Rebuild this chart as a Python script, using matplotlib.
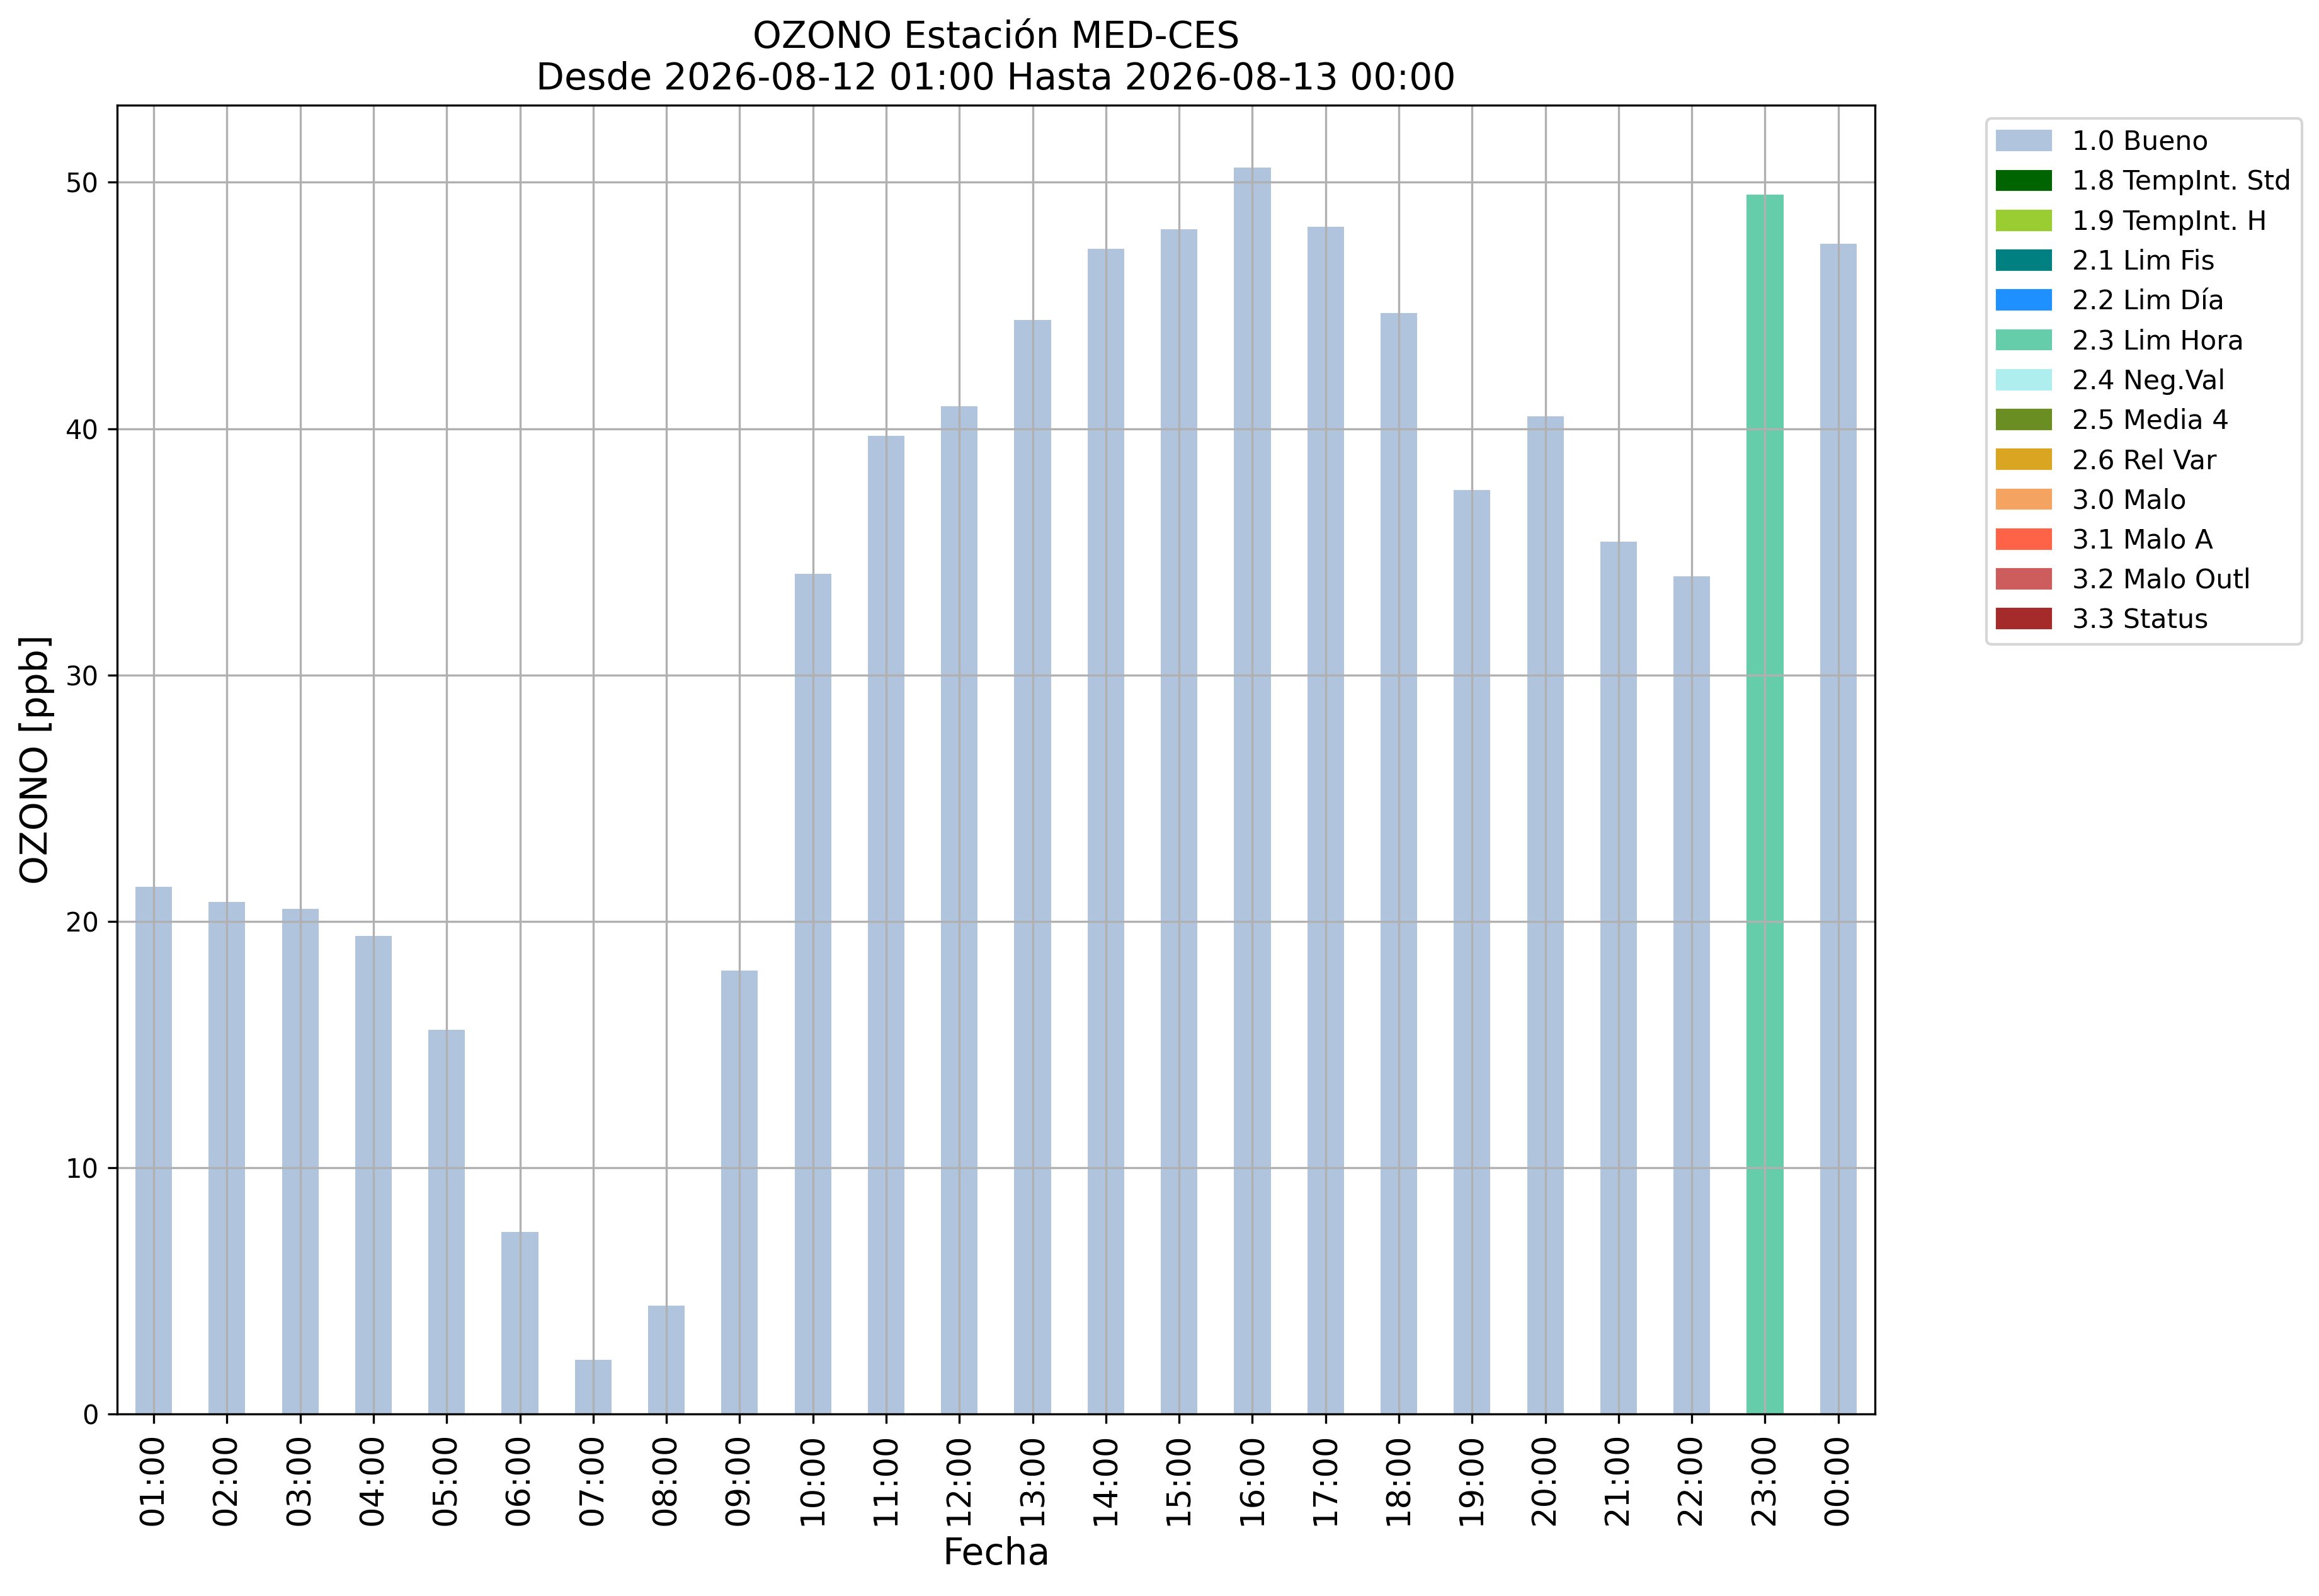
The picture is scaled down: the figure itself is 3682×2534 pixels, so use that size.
import numpy as np
import matplotlib
matplotlib.use("Agg")
import matplotlib.pyplot as plt
import matplotlib.patches as mpatches

# datos horarios de ozono
horas = ["01:00", "02:00", "03:00", "04:00", "05:00", "06:00", "07:00", "08:00",
         "09:00", "10:00", "11:00", "12:00", "13:00", "14:00", "15:00", "16:00",
         "17:00", "18:00", "19:00", "20:00", "21:00", "22:00", "23:00", "00:00"]
ozono = [21.4, 20.8, 20.5, 19.4, 15.6, 7.4, 2.2, 4.4,
         18.0, 34.1, 39.7, 40.9, 44.4, 47.3, 48.1, 50.6,
         48.2, 44.7, 37.5, 40.5, 35.4, 34.0, 49.5, 47.5]
banderas = ["1.0"] * 22 + ["2.3", "1.0"]

# etiquetas y colores de las banderas de calidad
flag_codes = ["1.0", "1.8", "1.9", "2.1", "2.2", "2.3", "2.4", "2.5", "2.6",
              "3.0", "3.1", "3.2", "3.3"]
flag_names = ["Bueno", "TempInt. Std", "TempInt. H", "Lim Fis", "Lim Día",
              "Lim Hora", "Neg.Val", "Media 4", "Rel Var", "Malo", "Malo A",
              "Malo Outl", "Status"]
flag_colors = ["lightsteelblue", "darkgreen", "yellowgreen", "teal", "dodgerblue",
               "mediumaquamarine", "paleturquoise", "olivedrab", "goldenrod",
               "sandybrown", "tomato", "indianred", "brown"]

color_map = dict(zip(flag_codes, flag_colors))
bar_colors = [color_map[b] for b in banderas]

fig = plt.figure(figsize=(3682 / 300, 2534 / 300), dpi=300)
ax = fig.add_axes([0.0505, 0.114, 0.758, 0.8201])

x = np.arange(len(horas))
ax.bar(x, ozono, width=0.5, color=bar_colors)
ax.set_xlim(-0.5, len(horas) - 0.5)
ax.set_xticks(x)
ax.set_xticklabels(horas, rotation=90, fontsize=12.3)
ax.tick_params(axis="y", labelsize=10)
ax.grid(True)

ax.set_title("OZONO Estación MED-CES\nDesde 2026-08-12 01:00 Hasta 2026-08-13 00:00",
             fontsize=14)
ax.set_xlabel("Fecha", fontsize=14)
ax.set_ylabel("OZONO [ppb]", fontsize=14)

handles = [mpatches.Patch(color=c, label=f"{code} {name}")
           for code, name, c in zip(flag_codes, flag_names, flag_colors)]
ax.legend(handles=handles, bbox_to_anchor=(1.056, 1), loc="upper left", fontsize=10.2)

fig.savefig("out.png", dpi=300)
